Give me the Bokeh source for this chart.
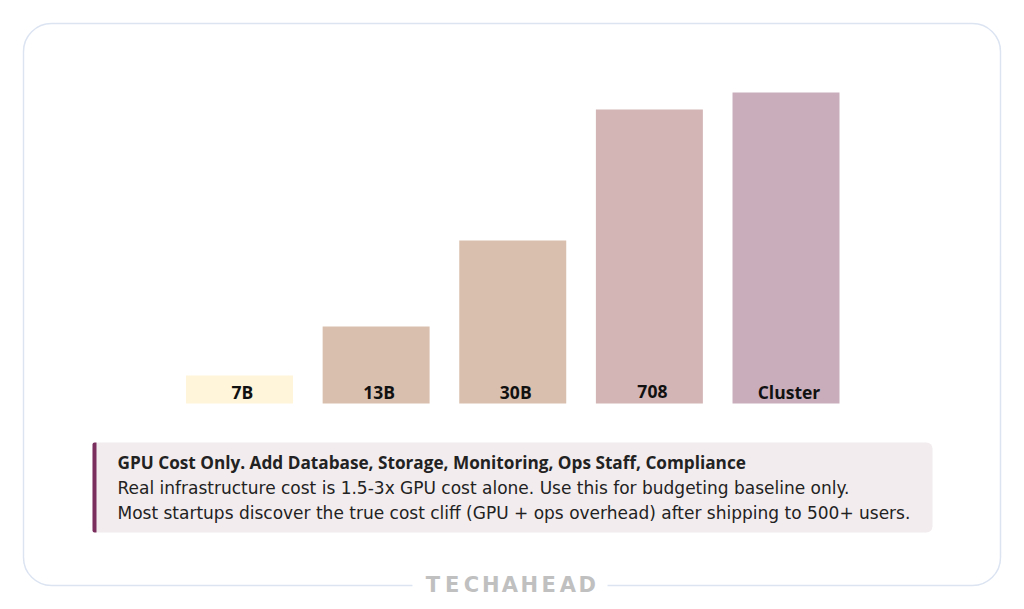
from bokeh.plotting import figure
from bokeh.models import Range1d, ColumnDataSource, Label
from bokeh.core.properties import value
from bokeh.embed import file_html
from bokeh.resources import INLINE

# ---- data ----
categories = ["7B", "13B", "30B", "70B", "Cluster"]
bar_labels = ["7B", "13B", "30B", "708", "Cluster"]
gpu_cost = [28, 77, 163, 294, 311]          # relative GPU cost (bar heights)
bar_colors = ["#FFF5DA", "#D9BFAE", "#D9BFAE", "#D3B5B5", "#C9ADBB"]

note_title = "GPU Cost Only. Add Database, Storage, Monitoring, Ops Staff, Compliance"
note_lines = [
    "Real infrastructure cost is 1.5-3x GPU cost alone. Use this for budgeting baseline only.",
    "Most startups discover the true cost cliff (GPU + ops overhead) after shipping to 500+ users.",
]
brand = "TECHAHEAD"

W, H = 1008, 593
FONT = "Open Sans"

p = figure(width=W, height=H, x_range=Range1d(0, 1008), y_range=Range1d(16, 609),
           output_backend="svg", toolbar_location=None, min_border=0,
           x_axis_type=None, y_axis_type=None)
p.grid.visible = False
p.outline_line_color = None
p.background_fill_color = "white"
p.border_fill_color = "white"

# bar ranges
p.extra_x_ranges = {"bx": Range1d(-1.7493, 5.6285)}
p.extra_y_ranges = {"by": Range1d(-190, 403)}

# outer rounded card
p.quad(left=23, right=1000, top=586, bottom=24, fill_color="white",
       line_color="#DCE4F2", line_width=1.5, border_radius=28)
# gap in the card border for the brand
p.quad(left=412, right=607, top=44, bottom=16, fill_color="white", line_color=None)
# letter-spaced brand mark
letters = list(brand)
step = 19.3
x0 = 509.5 - step * (len(letters) - 1) / 2
for i, ch in enumerate(letters):
    p.add_layout(Label(x=x0 + i * step, y=25, text=ch, text_align="center",
                       text_baseline="middle", text_font="DejaVu Sans",
                       text_font_style="bold", text_font_size="21px",
                       text_color="#C0C0C0"))

# bars
idx = list(range(len(categories)))
src = ColumnDataSource(dict(x=idx, top=gpu_cost, color=bar_colors, label=bar_labels,
                            ly=[12] * len(idx)))
p.vbar(x="x", top="top", bottom=0, width=0.783, fill_color="color", line_color=None,
       source=src, x_range_name="bx", y_range_name="by")
p.text(x="x", y="ly", text="label", source=src, x_range_name="bx", y_range_name="by",
       text_align="center", text_baseline="middle", x_offset=3,
       text_font=value(FONT), text_font_style="bold", text_font_size="17.5px",
       text_color="#111111")

# note panel
p.quad(left=92, right=932, top=167, bottom=77, fill_color="#F2ECEE", line_color=None,
       border_radius=6)
p.quad(left=92, right=96, top=167, bottom=77, fill_color="#7A2E5E", line_color=None,
       border_radius=(2, 0, 0, 2))
p.text(x=[117], y=[147], text=[note_title], text_baseline="middle",
       text_font=value(FONT), text_font_style="bold", text_font_size="17.2px",
       text_color="#222222")
p.text(x=[117, 117], y=[122, 97], text=note_lines, text_baseline="middle",
       text_font=value("DejaVu Sans"), text_font_size="17px", text_color="#222222")

open("out.html", "w").write(file_html(p, INLINE))
